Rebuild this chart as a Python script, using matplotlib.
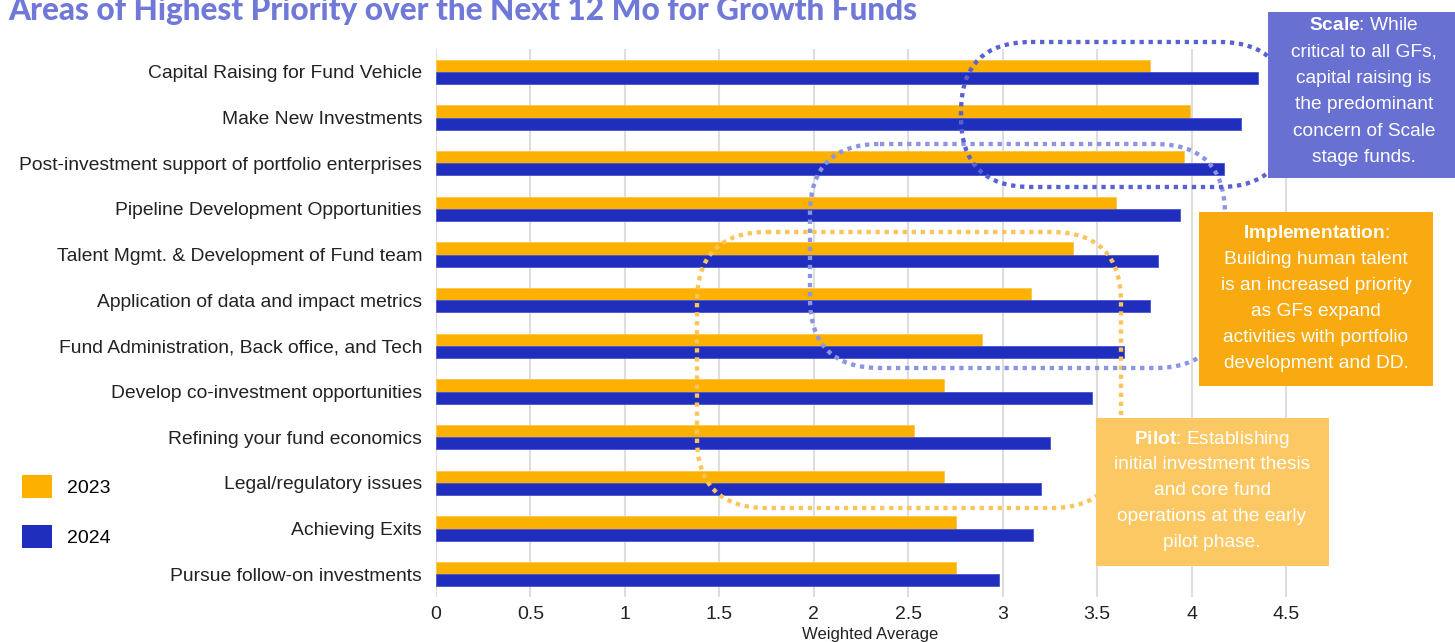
import matplotlib
matplotlib.use("Agg")
import matplotlib.pyplot as plt
import numpy as np
from matplotlib.patches import FancyBboxPatch, Rectangle, Patch
from matplotlib.transforms import Affine2D

plt.rcParams["font.family"] = ["Liberation Sans", "DejaVu Sans"]
plt.rcParams["mathtext.fontset"] = "custom"
plt.rcParams["mathtext.rm"] = "Liberation Sans"
plt.rcParams["mathtext.bf"] = "Liberation Sans:bold"

# ---- data -------------------------------------------------------------
categories = [
    "Capital Raising for Fund Vehicle",
    "Make New Investments",
    "Post-investment support of portfolio enterprises",
    "Pipeline Development Opportunities",
    "Talent Mgmt. & Development of Fund team",
    "Application of data and impact metrics",
    "Fund Administration, Back office, and Tech",
    "Develop co-investment opportunities",
    "Refining your fund economics",
    "Legal/regulatory issues",
    "Achieving Exits",
    "Pursue follow-on investments",
]
values_2023 = [3.78, 3.99, 3.96, 3.60, 3.37, 3.15, 2.89, 2.69, 2.53, 2.69, 2.75, 2.75]
values_2024 = [4.35, 4.26, 4.17, 3.94, 3.82, 3.78, 3.64, 3.47, 3.25, 3.20, 3.16, 2.98]
series_labels = ["2023", "2024"]
x_ticks = [0, 0.5, 1, 1.5, 2, 2.5, 3, 3.5, 4, 4.5]
x_tick_labels = ["0", "0.5", "1", "1.5", "2", "2.5", "3", "3.5", "4", "4.5"]

title = "Areas of Highest Priority over the Next 12 Mo for Growth Funds"
notes = {
    "scale": [r"$\bf{Scale}$: While", "critical to all GFs,", "capital raising is",
              "the predominant", "concern of Scale", "stage funds."],
    "impl": [r"$\bf{Implementation}$:", "Building human talent", "is an increased priority",
             "as GFs expand", "activities with portfolio", "development and DD."],
    "pilot": [r"$\bf{Pilot}$: Establishing", "initial investment thesis", "and core fund",
              "operations at the early", "pilot phase."],
}

# ---- style ------------------------------------------------------------
C23 = "#FCB000"
C24 = "#1F2EBD"
TITLE_C = "#7179D8"
TXT = "#222222"
W, H = 1455, 642

fig = plt.figure(figsize=(W / 100, H / 100), dpi=100)
# pixel coordinates measured from the top-left corner
px = Affine2D().scale(1 / 100, -1 / 100).translate(0, H / 100) + fig.dpi_scale_trans

ax_left, ax_right, ax_top, ax_bot = 436, 1305, 49, 597
ax = fig.add_axes([ax_left / W, 1 - ax_bot / H, (ax_right - ax_left) / W, (ax_bot - ax_top) / H])

y = np.arange(len(categories))
bh = 0.27
ax.barh(y - bh / 2, values_2023, height=bh, color=C23, edgecolor="#FDC64A",
        linewidth=0.6, zorder=2, label=series_labels[0])
ax.barh(y + bh / 2, values_2024, height=bh, color=C24, edgecolor="#4A55CF",
        linewidth=0.6, zorder=2, label=series_labels[1])

ax.set_ylim(len(categories) - 0.5, -0.5)
ax.set_xlim(0, 4.6)
ax.set_yticks(y)
ax.set_yticklabels(categories, fontsize=13.9, color=TXT)
ax.set_xticks(x_ticks)
ax.set_xticklabels(x_tick_labels, fontsize=14, color=TXT)
ax.tick_params(axis="y", length=0, pad=10)
ax.tick_params(axis="x", length=0, pad=6.5)
ax.set_xlabel("Weighted Average", fontsize=12, color=TXT, labelpad=3)
ax.grid(axis="x", color="#DEDEDE", linewidth=1.5, zorder=0)
ax.set_axisbelow(True)
for s in ax.spines.values():
    s.set_visible(False)

# ---- title --------------------------------------------------------------
fig.text(8, 20, title, transform=px, fontsize=22.7, fontfamily="Lato", fontweight="black",
         color=TITLE_C, ha="left", va="baseline")

# ---- legend -------------------------------------------------------------
handles = [Patch(facecolor=C23), Patch(facecolor=C24)]
fig.legend(handles, series_labels, loc="upper left",
           bbox_to_anchor=(22 / W, 1 - 475 / H), frameon=False, fontsize=14,
           handlelength=1.55, handleheight=1.45, labelspacing=1.4,
           handletextpad=0.75, borderpad=0, borderaxespad=0)

# ---- dotted stage outlines ----------------------------------------------
def loop(x0, y0, x1, y1, color, r=70):
    p = FancyBboxPatch((x0, y0), x1 - x0, y1 - y0,
                       boxstyle=f"round,pad=0,rounding_size={r}",
                       transform=px, facecolor="none", edgecolor=color,
                       linewidth=3.1, linestyle=(0, (1, 1.1)), capstyle="butt", zorder=5)
    fig.add_artist(p)

loop(697, 232, 1121, 508, "#FCC45A")
loop(810, 144, 1225, 368, "#8C94E4")
loop(961, 42, 1289, 187, "#5A62D2")

# ---- stage note boxes ---------------------------------------------------
def note(x0, y0, x1, y1, color, lines, cx, first_y, step):
    fig.add_artist(Rectangle((x0, y0), x1 - x0, y1 - y0, transform=px,
                             facecolor=color, edgecolor="none", zorder=6))
    for i, ln in enumerate(lines):
        fig.text(cx, first_y + i * step, ln, transform=px, fontsize=13.8, color="white",
                 ha="center", va="center", zorder=7)

note(1268, 12, 1455, 178, "#6870D2", notes["scale"], 1364, 25, 26.6)
note(1199, 212, 1433, 386, "#F8AA10", notes["impl"], 1316, 233, 26)
note(1096, 418, 1329, 566, "#FCC864", notes["pilot"], 1212, 439, 25.8)

fig.savefig("out.png", dpi=100)
